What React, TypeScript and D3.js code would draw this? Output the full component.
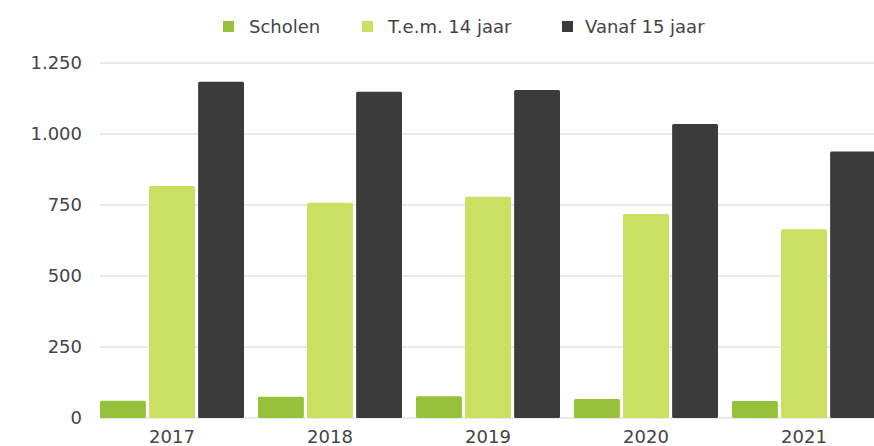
import React from "react";
import * as d3 from "d3";

const years = ["2017", "2018", "2019", "2020", "2021"];
const seriesNames = ["Scholen", "T.e.m. 14 jaar", "Vanaf 15 jaar"];
const scholen = [61, 75, 77, 67, 60];
const tem14 = [817, 758, 779, 718, 665];
const vanaf15 = [1184, 1149, 1155, 1035, 938];
const yTicks = [0, 250, 500, 750, 1000, 1250];
const colors = ["#95c13b", "#c9e063", "#3b3b3b"];

const W = 874;
const H = 446;

export default function App() {
  const series = [scholen, tem14, vanaf15];
  const y = d3.scaleLinear().domain([0, 1250]).range([418, 63]);
  const x0 = d3.scaleBand<string>().domain(years).range([100, 876]).paddingInner(0.0886).paddingOuter(0);
  const x1 = d3.scaleBand<string>().domain(seriesNames).range([0, x0.bandwidth()]).paddingInner(0.065).paddingOuter(0);
  const loc = d3.formatLocale({ decimal: ",", thousands: ".", grouping: [3], currency: ["€", ""] });
  const fmt = loc.format(",d");
  const font = "'DejaVu Sans', Verdana, sans-serif";
  const legendSquares = [223, 362, 562];
  const legendText = [249, 388, 585];

  return (
    <svg width={W} height={H} style={{ position: "absolute", left: 0, top: 0, background: "#fff" }} fontFamily={font}>
      <rect x={0} y={0} width={W} height={H} fill="#fff" />
      {yTicks.map((t) => (
        <g key={t}>
          <line x1={100} x2={W} y1={y(t)} y2={y(t)} stroke="#e3e3e3" strokeWidth={1.5} />
          <text x={82} y={y(t)} dy="0.36em" textAnchor="end" fontSize={18} fill="#444">
            {fmt(t)}
          </text>
        </g>
      ))}
      {years.map((yr, i) => (
        <g key={yr} transform={`translate(${x0(yr)},0)`}>
          {seriesNames.map((s, j) => (
            <rect
              key={s}
              x={x1(s)}
              y={y(series[j][i])}
              width={x1.bandwidth()}
              height={y(0) - y(series[j][i])}
              fill={colors[j]}
              rx={1.5}
            />
          ))}
          <text x={x0.bandwidth() / 2} y={443} textAnchor="middle" fontSize={18} fill="#444">
            {yr}
          </text>
        </g>
      ))}
      {seriesNames.map((s, j) => (
        <g key={s}>
          <rect x={legendSquares[j]} y={21} width={11} height={11} fill={colors[j]} />
          <text x={legendText[j]} y={33} fontSize={18} fill="#444">
            {s}
          </text>
        </g>
      ))}
    </svg>
  );
}
